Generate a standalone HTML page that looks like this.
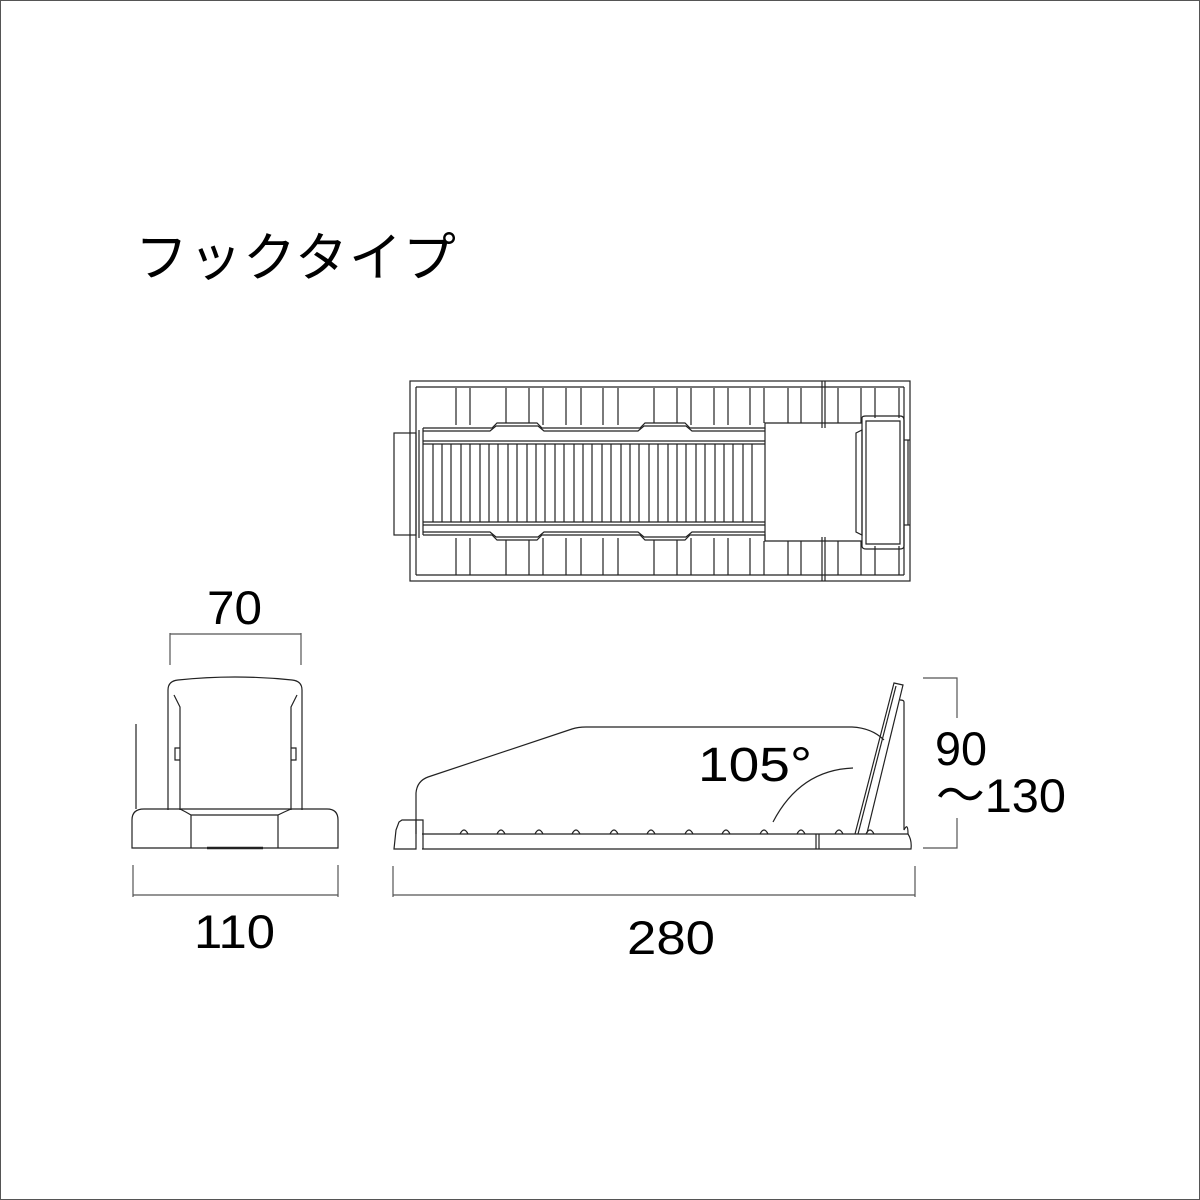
<!DOCTYPE html>
<html><head><meta charset="utf-8"><style>
html,body{margin:0;padding:0;background:#fff}
svg{display:block}
text{font-family:"Liberation Sans","Noto Sans CJK JP",sans-serif;fill:#000}
</style></head><body>
<svg width="1200" height="1200" viewBox="0 0 1200 1200" xmlns="http://www.w3.org/2000/svg">
<rect x="0.5" y="0.5" width="1199" height="1199" fill="#fff" stroke="#555" stroke-width="1"/>
<text x="135" y="276" font-size="53" letter-spacing="1">フックタイプ</text>

<!-- TOP VIEW -->
<g fill="none" stroke="#222" stroke-width="1.2">
<rect x="410" y="381" width="500" height="200"/>
<line x1="416" y1="387" x2="904" y2="387"/>
<line x1="416" y1="575" x2="904" y2="575"/>
<line x1="416" y1="387" x2="416" y2="575"/>
<line x1="904" y1="387" x2="904" y2="575"/>
<line x1="822" y1="381" x2="822" y2="428"/><line x1="825" y1="381" x2="825" y2="428"/>
<line x1="822" y1="537" x2="822" y2="581"/><line x1="825" y1="537" x2="825" y2="581"/>
<path d="M423 428 L492 428 L497 423 L537 423 L542 428 L640 428 L645 423 L685 423 L690 428 L765 428 L765 423 L862 423"/>
<path d="M423 431 L490 431 L496 426 L538 426 L544 431 L638 431 L644 426 L686 426 L692 431 L765 431"/>
<path d="M423 535 L492 535 L497 540 L537 540 L542 535 L640 535 L645 540 L685 540 L690 535 L765 535 L765 541 L862 541"/>
<path d="M423 532 L490 532 L496 537 L538 537 L544 532 L638 532 L644 537 L686 537 L692 532 L765 532"/>
<line x1="423" y1="441" x2="765" y2="441"/><line x1="423" y1="444" x2="765" y2="444"/>
<line x1="423" y1="522" x2="765" y2="522"/><line x1="423" y1="525" x2="765" y2="525"/>
<g>
<path d="M456 388V425M470 388V425M506 388V423M529 388V423M543 388V425M566 388V425M581 388V425M603 388V425M618 388V425M654 388V423M677 388V423M691 388V425M714 388V425M728 388V425M750 388V425M764 388V423M788 388V423M801 388V423M838 388V423M861 388V423M875 388V418M899 388V418"/>
<path d="M456 538V575M470 538V575M506 540V575M529 540V575M543 538V575M566 538V575M581 538V575M603 538V575M618 538V575M654 540V575M677 540V575M691 538V575M714 538V575M728 538V575M750 538V575M764 541V575M788 541V575M801 541V575M838 541V575M861 541V575M875 546V575M899 546V575"/>
</g>
<path d="M433 444V522M442 444V522M451 444V522M461 444V522M470 444V522M480 444V522M489 444V522M498 444V522M508 444V522M517 444V522M527 444V522M536 444V522M545 444V522M555 444V522M564 444V522M574 444V522M583 444V522M592 444V522M602 444V522M611 444V522M621 444V522M630 444V522M639 444V522M649 444V522M658 444V522M668 444V522M677 444V522M686 444V522M696 444V522M705 444V522M715 444V522M724 444V522M733 444V522M743 444V522M752 444V522"/>
<line x1="423" y1="428" x2="423" y2="535"/>
<line x1="765" y1="428" x2="765" y2="541"/>
<rect x="394" y="433" width="22" height="102"/>
<line x1="419" y1="430" x2="419" y2="538"/>
<path d="M862 418 Q862 416 866 416 L900 416 Q904 416 904 420 L904 546 Q904 549 900 549 L866 549 Q862 549 862 546 Z"/>
<path d="M856 433 L862 430 L862 535 L856 532 Z"/>
<path d="M866 421 L900 421 L900 544 L866 544 Z"/>
<line x1="904" y1="440" x2="910" y2="440"/><line x1="904" y1="525" x2="910" y2="525"/>
<line x1="908" y1="440" x2="908" y2="525"/>
</g>

<!-- FRONT VIEW -->
<g fill="none" stroke="#222" stroke-width="1.2">
<path d="M170 633V665M301 633V665M170 634H301" stroke="#555"/>
<path d="M168 810 L168 690 Q168 681 178 680 Q235 674 292 680 Q302 681 302 690 L302 810"/>
<path d="M180 810 L180 707 L174 695 M291 810 L291 707 L297 695"/>
<path d="M180 748 L175 748 L175 760 L180 760 M291 748 L296 748 L296 760 L291 760"/>
<path d="M132 848 L132 820 Q132 809 144 809 L327 809 Q338 809 338 820 L338 848 Z"/>
<path d="M180 809 Q186 812 191 815 L191 848 M291 809 Q284 812 278 815 L278 848 M191 815 H278"/>
<line x1="207" y1="848" x2="263" y2="848" stroke-width="2.5"/>
<line x1="136" y1="724" x2="136" y2="809"/>
<path d="M133 865V897M338 865V897M133 895H338" stroke="#555"/>
</g>
<text x="207" y="624" font-size="47" textLength="55" lengthAdjust="spacingAndGlyphs">70</text>
<text x="194" y="948" font-size="47" textLength="81" lengthAdjust="spacingAndGlyphs">110</text>

<!-- SIDE VIEW -->
<g fill="none" stroke="#222" stroke-width="1.2">
<path d="M422 834 L908 834 Q908 822 904 830 L904 702 Q904 700 900 700"/>
<path d="M422 849 L911 849 Q912 840 908 834"/>
<path d="M416 834 L416 793 Q417 781 428 777 L572 729 Q578 727 586 727 L852 727 Q872 728 884 740"/>
<path d="M855 834 L894 683 L903 685 L867 833"/>
<path d="M858 834 L896 686"/>
<path d="M773 822 Q800 770 853 768"/>
<path d="M394 849 L396 830 L399 822 L402 820 L416 820 L416 849 Z"/>
<path d="M416 820 L423 820 L423 849"/>
<line x1="816" y1="834" x2="816" y2="849"/><line x1="819" y1="834" x2="819" y2="849"/>
<path d="M460 834 q4 -8 8 0 M497 834 q4 -8 8 0 M535 834 q4 -8 8 0 M572 834 q4 -8 8 0 M610 834 q4 -8 8 0 M647 834 q4 -8 8 0 M685 834 q4 -8 8 0 M722 834 q4 -8 8 0 M760 834 q4 -8 8 0 M797 834 q4 -8 8 0 M835 834 q4 -8 8 0 M866 834 q4 -8 8 0"/>
<path d="M393 866V897M915 866V897M393 895H915" stroke="#555"/>
<path d="M923 678H957V718M957 818V848H923" stroke="#555"/>
</g>
<text x="698" y="781" font-size="48" textLength="114" lengthAdjust="spacingAndGlyphs">105°</text>
<text x="935" y="765" font-size="47" textLength="52" lengthAdjust="spacingAndGlyphs">90</text>
<text x="936" y="812" font-size="47" textLength="130" lengthAdjust="spacingAndGlyphs">～130</text>
<text x="627" y="954" font-size="47" textLength="88" lengthAdjust="spacingAndGlyphs">280</text>
</svg>
</body></html>
